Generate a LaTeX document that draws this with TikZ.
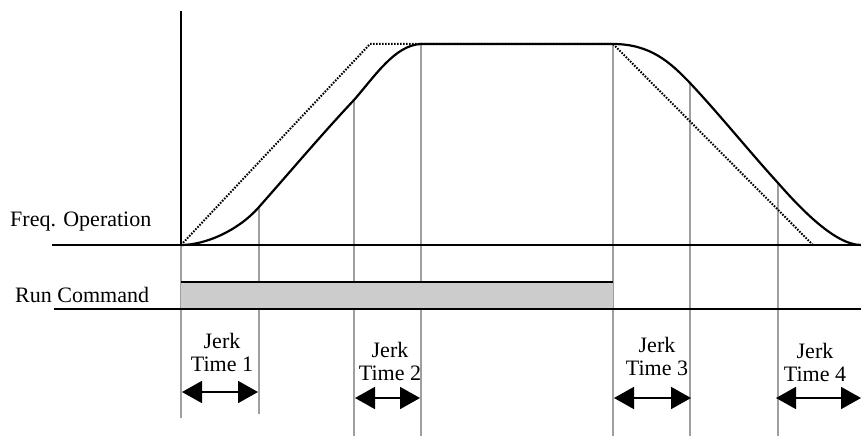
\documentclass[tikz,border=0pt]{standalone}
\usepackage{fontspec}
\setmainfont{Liberation Serif}
\usepackage{tikz}
\usetikzlibrary{arrows.meta, positioning}

\begin{document}
\begin{tikzpicture}[x=1pt, y=-1pt, font=\fontsize{22}{23.5}\selectfont,
    axisline/.style={line width=1.8pt, black},
    guide/.style={line width=1.6pt, gray!75},
    profile/.style={line width=2.2pt, black},
    ramp/.style={line width=2pt, black, dash pattern=on 1.6pt off 1.4pt},
    span/.style={line width=1.8pt, {Triangle[length=20pt,width=22pt]}-{Triangle[length=20pt,width=22pt]}},
    lbl/.style={inner sep=0pt, align=center}]
    \useasboundingbox (0,0) rectangle (861,436);

    % key points of the profile
    \coordinate (o) at (181,245);
    \coordinate (top) at (181,11);
    \coordinate (p1) at (259,207);
    \coordinate (p2) at (354,100);
    \coordinate (p3) at (421,44);
    \coordinate (p4) at (613,44);
    \coordinate (p5) at (690,83);
    \coordinate (p6) at (778,183);
    \coordinate (p7) at (861,245);
    \coordinate (r1) at (370,44);
    \coordinate (r2) at (813,245);

    % guide lines
    \draw[guide] (o) -- (181,418);
    \draw[guide] (p1) -- (259,414);
    \draw[guide] (p2) -- (354,436);
    \draw[guide] (p3) -- (421,436);
    \draw[guide] (p4) -- (613,436);
    \draw[guide] (p5) -- (690,436);
    \draw[guide] (p6) -- (778,436);

    % run command bar
    \fill[gray!40] (181,282) rectangle (613,309);
    \draw[line width=2.2pt] (181,282) -- (613,282);
    \draw[axisline] (54,309) -- (861,309);
    \draw[axisline] (52,245) -- (861,245);
    \draw[axisline] (o) -- (top);

    % linear ramp and S-curve
    \draw[ramp] (o) -- (r1) -- (p4) -- (r2);
    \draw[profile] (o) .. controls (205,245) and (238,231) .. (p1)
        .. controls (290,172) and (322,134) .. (p2)
        .. controls (375,76) and (395,45) .. (p3) -- (p4)
        .. controls (650,44) and (670,62) .. (p5)
        .. controls (720,115) and (748,150) .. (p6)
        .. controls (800,208) and (835,245) .. (p7);

    % labels
    \node[lbl, anchor=base west] (freq) at (10,226) {Freq. Operation};
    \node[lbl, anchor=base west] (run) at (15,302) {Run Command};
    \node[lbl, anchor=north] (jt1) at (222,333) {Jerk\\Time 1};
    \node[lbl, anchor=north] (jt2) at (390,342) {Jerk\\Time 2};
    \node[lbl, anchor=north] (jt3) at (657,337) {Jerk\\Time 3};
    \node[lbl, anchor=north] (jt4) at (815,343) {Jerk\\Time 4};

    % jerk spans
    \draw[span] (182,392) -- (258,392);
    \draw[span] (355,398) -- (420,398);
    \draw[span] (614,398) -- (691,398);
    \draw[span] (776,398) -- (861,398);
\end{tikzpicture}
\end{document}
